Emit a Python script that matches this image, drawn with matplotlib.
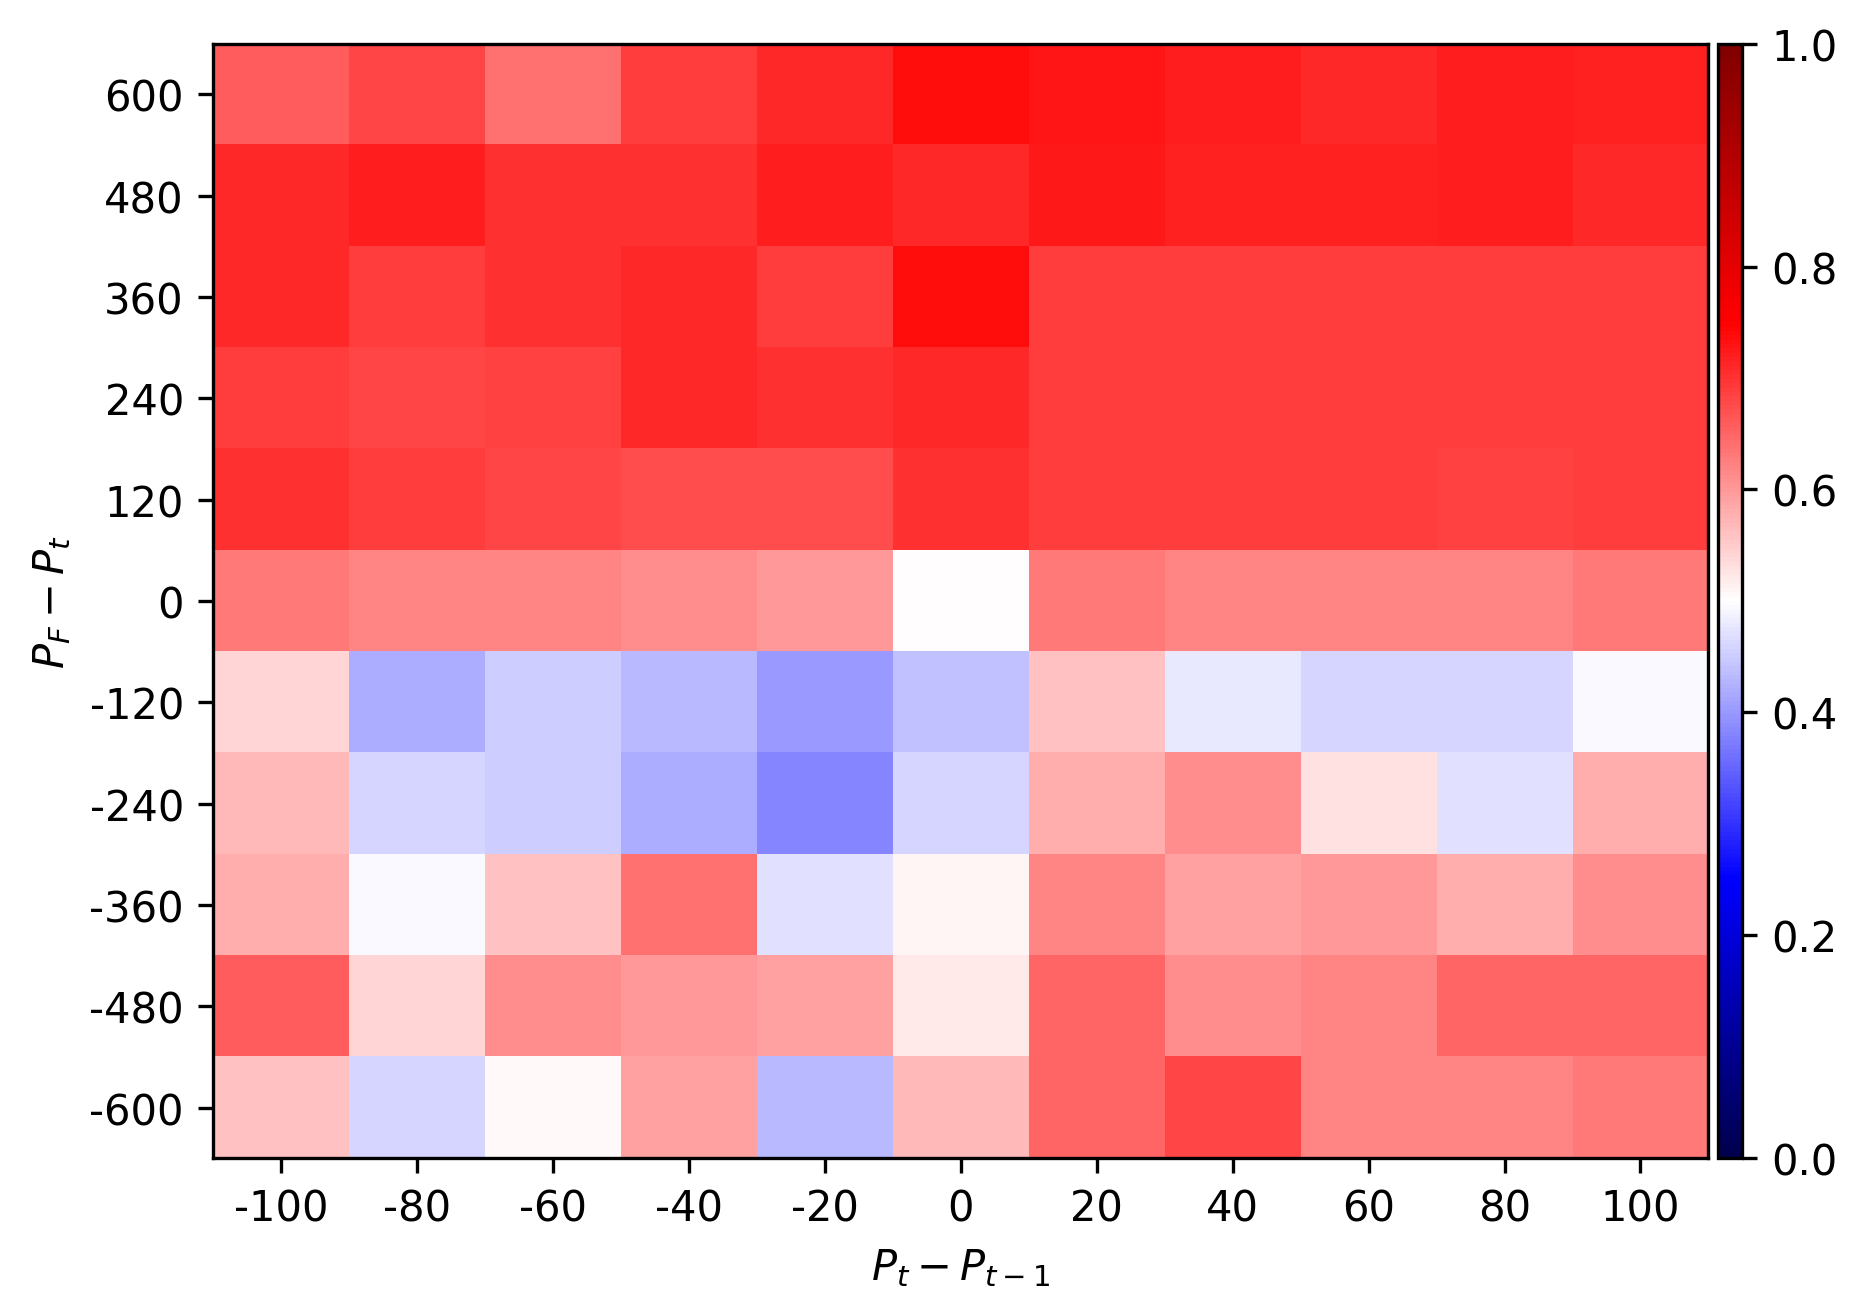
import numpy as np
import matplotlib
matplotlib.use("Agg")
import matplotlib.pyplot as plt

x_vals = [-100, -80, -60, -40, -20, 0, 20, 40, 60, 80, 100]
y_vals = [600, 480, 360, 240, 120, 0, -120, -240, -360, -480, -600]

# rows top (600) to bottom (-600)
grid = [
    [0.66, 0.68, 0.64, 0.69, 0.71, 0.735, 0.73, 0.72, 0.71, 0.72, 0.715],
    [0.71, 0.72, 0.70, 0.70, 0.72, 0.71, 0.725, 0.715, 0.715, 0.72, 0.71],
    [0.71, 0.69, 0.70, 0.71, 0.69, 0.735, 0.69, 0.69, 0.69, 0.69, 0.69],
    [0.69, 0.68, 0.685, 0.71, 0.70, 0.71, 0.69, 0.69, 0.69, 0.69, 0.69],
    [0.70, 0.69, 0.68, 0.675, 0.675, 0.70, 0.69, 0.69, 0.69, 0.685, 0.69],
    [0.63, 0.62, 0.62, 0.61, 0.60, 0.50, 0.63, 0.62, 0.62, 0.62, 0.63],
    [0.54, 0.42, 0.45, 0.43, 0.40, 0.44, 0.56, 0.48, 0.46, 0.46, 0.495],
    [0.57, 0.46, 0.45, 0.42, 0.38, 0.46, 0.58, 0.61, 0.53, 0.47, 0.58],
    [0.58, 0.495, 0.56, 0.64, 0.47, 0.51, 0.62, 0.59, 0.60, 0.58, 0.61],
    [0.66, 0.54, 0.61, 0.60, 0.59, 0.52, 0.65, 0.61, 0.62, 0.65, 0.65],
    [0.56, 0.46, 0.505, 0.59, 0.43, 0.57, 0.65, 0.68, 0.62, 0.62, 0.63],
]

fig = plt.figure(figsize=(1853 / 300, 1310 / 300), dpi=300)
ax = fig.add_axes([0.115, 0.115, 0.807, 0.851])
cax = fig.add_axes([0.927, 0.115, 0.013, 0.851])

dx = 20
dy = 120
im = ax.imshow(np.array(grid), cmap='seismic', vmin=0, vmax=1, aspect='auto',
               extent=[min(x_vals) - dx / 2, max(x_vals) + dx / 2,
                       min(y_vals) - dy / 2, max(y_vals) + dy / 2])
ax.set_xticks(x_vals)
ax.set_xticklabels([str(v) for v in x_vals])
ax.set_yticks(y_vals)
ax.set_yticklabels([str(v) for v in y_vals])
ax.set_xlabel(r'$P_t - P_{t-1}$')
ax.set_ylabel(r'$P_F - P_t$')
fig.colorbar(im, cax=cax)

fig.savefig('out.png', dpi=300)
